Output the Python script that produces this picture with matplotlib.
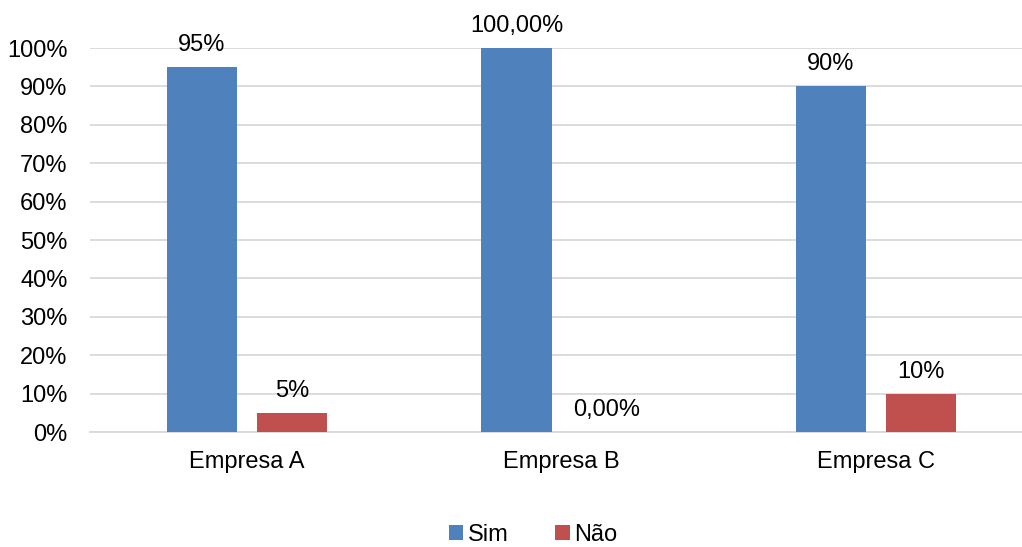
import matplotlib
matplotlib.use("Agg")
import matplotlib.pyplot as plt
from matplotlib.ticker import FuncFormatter
from matplotlib.patches import Patch

plt.rcParams['font.family'] = ['Liberation Sans', 'DejaVu Sans']

categories = ["Empresa A", "Empresa B", "Empresa C"]
sim = [0.95, 1.00, 0.90]
nao = [0.05, 0.00, 0.10]
sim_labels = ["95%", "100,00%", "90%"]
nao_labels = ["5%", "0,00%", "10%"]
series_names = ["Sim", "Não"]
colors = ["#4F81BD", "#C0504D"]

FS = 17

fig = plt.figure(figsize=(10.22, 5.47), dpi=100)
ax = fig.add_axes([0.0878, 0.2102, 0.9232, 0.702])

x = list(range(len(categories)))
w = 0.224
off = 0.143
ax.bar([i - off for i in x], sim, width=w, color=colors[0], zorder=3)
ax.bar([i + off for i in x], nao, width=w, color=colors[1], zorder=3)

for i in x:
    ax.annotate(sim_labels[i], (i - off, sim[i]), xytext=(0, 22), textcoords="offset pixels",
                ha="center", va="center", fontsize=FS, color="#000000")
    ax.annotate(nao_labels[i], (i + off, nao[i]), xytext=(0, 22), textcoords="offset pixels",
                ha="center", va="center", fontsize=FS, color="#000000")

ax.set_xlim(-0.5, 2.5)
ax.set_ylim(0, 1.0)
ax.set_yticks([k / 10 for k in range(11)])
ax.yaxis.set_major_formatter(FuncFormatter(lambda v, p: f"{round(v * 100):d}%"))
ax.set_xticks(x)
ax.set_xticklabels(categories)
ax.tick_params(axis="both", length=0, labelsize=FS, colors="#000000")
ax.tick_params(axis="x", pad=14)
ax.tick_params(axis="y", pad=16)
ax.yaxis.grid(True, color="#D9D9D9", linewidth=1.3, zorder=0)
for s in ["top", "right", "left"]:
    ax.spines[s].set_visible(False)
ax.spines["bottom"].set_color("#D9D9D9")
ax.spines["bottom"].set_linewidth(1.3)
ax.spines["bottom"].set_zorder(1)

handles = [Patch(facecolor=c, edgecolor="none") for c in colors]
fig.legend(handles, series_names, loc="center", bbox_to_anchor=(0.5215, 0.022),
           ncol=2, frameon=False, fontsize=FS, handlelength=0.6, handleheight=0.6,
           handletextpad=0.2, columnspacing=2.0)

fig.savefig("out.png", dpi=100)
